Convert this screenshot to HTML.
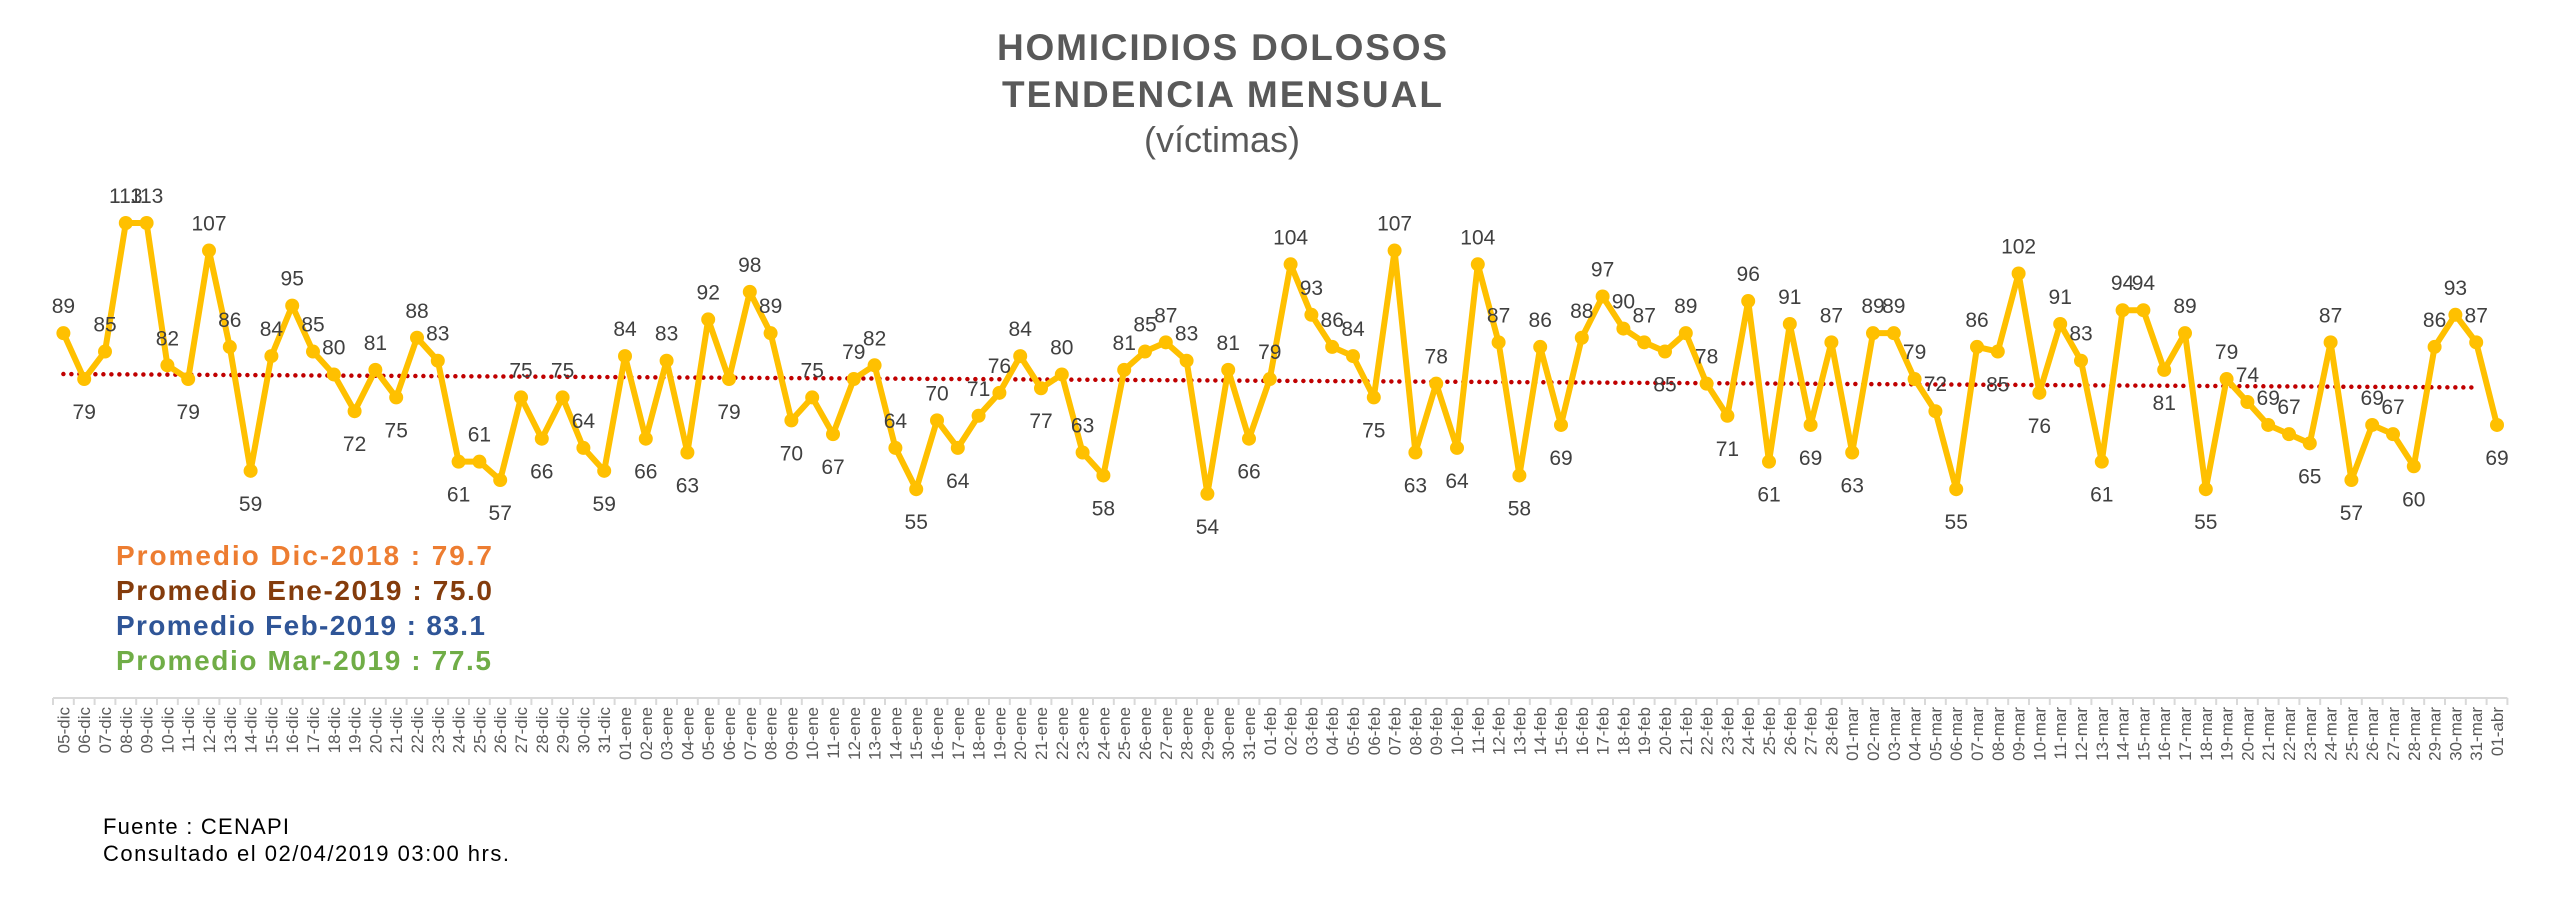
<!DOCTYPE html>
<html><head><meta charset="utf-8"><style>
html,body{margin:0;padding:0;background:#fff;}
svg{display:block;font-family:"Liberation Sans",sans-serif;}
</style></head><body>
<svg id="chart" width="2554" height="902" viewBox="0 0 2554 902" xmlns="http://www.w3.org/2000/svg">
<text x="1222" y="60" text-anchor="middle" font-size="37" font-weight="bold" fill="#595959" textLength="450">HOMICIDIOS DOLOSOS</text>
<text x="1222" y="107" text-anchor="middle" font-size="37" font-weight="bold" fill="#595959" textLength="440">TENDENCIA MENSUAL</text>
<text x="1222" y="152" text-anchor="middle" font-size="36" fill="#595959">(víctimas)</text>
<g id="axis"></g>
<g id="trend"></g>
<g id="series"></g>
<g id="labels"></g>
<text x="116" y="565" font-size="28" font-weight="bold" fill="#ED7D31" textLength="376">Promedio Dic-2018  : 79.7</text>
<text x="116" y="600" font-size="28" font-weight="bold" fill="#843C0C" textLength="376">Promedio Ene-2019 : 75.0</text>
<text x="116" y="635" font-size="28" font-weight="bold" fill="#2F5597" textLength="369">Promedio Feb-2019 : 83.1</text>
<text x="116" y="670" font-size="28" font-weight="bold" fill="#70AD47" textLength="375">Promedio Mar-2019 : 77.5</text>
<text x="103" y="834" font-size="22" fill="#000" textLength="186">Fuente : CENAPI</text>
<text x="103" y="861" font-size="22" fill="#000" textLength="406">Consultado el 02/04/2019  03:00 hrs.</text>
</svg>
<script>
const decValues = [89,79,85,113,113,82,79,107,86,59,84,95,85,80,72,81,75,88,83,61,61,57,75,66,75,64,59];
const eneValues = [84,66,83,63,92,79,98,89,70,75,67,79,82,64,55,70,64,71,76,84,77,80,63,58,81,85,87,83,54,81,66];
const febValues = [79,104,93,86,84,75,107,63,78,64,104,87,58,86,69,88,97,90,87,85,89,78,71,96,61,91,69,87];
const marValues = [63,89,89,79,72,55,86,85,102,76,91,83,61,94,94,81,89,55,79,74,69,67,65,87,57,69,67,60,86,93,87];
const abrValues = [69];
const monthNames = ["dic","ene","feb","mar","abr"];
const monthStartDays = [5,1,1,1,1];

const NS = "http://www.w3.org/2000/svg";
const groups = [decValues, eneValues, febValues, marValues, abrValues];
const values = [], cats = [];
groups.forEach((g, m) => g.forEach((v, i) => {
  values.push(v);
  const d = monthStartDays[m] + i;
  cats.push((d < 10 ? "0" + d : "" + d) + "-" + monthNames[m]);
}));
const N = values.length;
const x0 = 53, step = 20.8;
const xScale = i => x0 + step * (i + 0.5);
const yScale = v => 223 + (113 - v) * 4.59;
function mk(tag, attrs, parent) {
  const e = document.createElementNS(NS, tag);
  for (const k in attrs) e.setAttribute(k, attrs[k]);
  parent.appendChild(e);
  return e;
}
// axis
const axis = document.getElementById("axis");
const axLine = mk("line", {x1: x0, x2: x0 + step * N, y1: 698, y2: 698, stroke: "#d9d9d9", "stroke-width": 2}, axis);


for (let i = 0; i <= N; i++) {
  const t = mk("line", {x1: x0 + step * i, x2: x0 + step * i, y1: 698, y2: 705, stroke: "#d9d9d9", "stroke-width": 2}, axis);
  
  
}
cats.forEach((c, i) => {
  const x = xScale(i) + 6;
  const t = mk("text", {x: x, y: 707, transform: "rotate(-90 " + x + " 707)", "text-anchor": "end", "font-size": 17, fill: "#595959"}, axis);
  t.textContent = c;
  
  
});
// trend line (linear regression)
let sx = 0, sy = 0, sxy = 0, sxx = 0;
values.forEach((v, i) => { sx += i; sy += v; sxy += i * v; sxx += i * i; });
const b = (N * sxy - sx * sy) / (N * sxx - sx * sx);
const a = (sy - b * sx) / N;
const trend = mk("line", {x1: xScale(0), y1: yScale(a), x2: xScale(N - 1) - 20, y2: yScale(a + b * (N - 1)), stroke: "#C00000", "stroke-width": 4.5, "stroke-dasharray": "0 8", "stroke-linecap": "round"}, document.getElementById("trend"));


// series
const series = document.getElementById("series");
const pl = mk("polyline", {points: values.map((v, i) => xScale(i) + "," + yScale(v)).join(" "), fill: "none", stroke: "#FFC000", "stroke-width": 6, "stroke-linejoin": "round"}, series);


values.forEach((v, i) => {
  const c = mk("circle", {cx: xScale(i), cy: yScale(v), r: 7, fill: "#FFC000"}, series);
  
  
});
// labels
const labels = document.getElementById("labels");
values.forEach((v, i) => {
  const prev = i > 0 ? values[i - 1] : v;
  const next = i < N - 1 ? values[i + 1] : v;
  const below = v < prev && v <= next;
  const y = below ? yScale(v) + 40 : yScale(v) - 20;
  const t = mk("text", {x: xScale(i), y: y, "text-anchor": "middle", "font-size": 21, fill: "#404040"}, labels);
  t.textContent = v;
  
  
});
</script>
</body></html>
